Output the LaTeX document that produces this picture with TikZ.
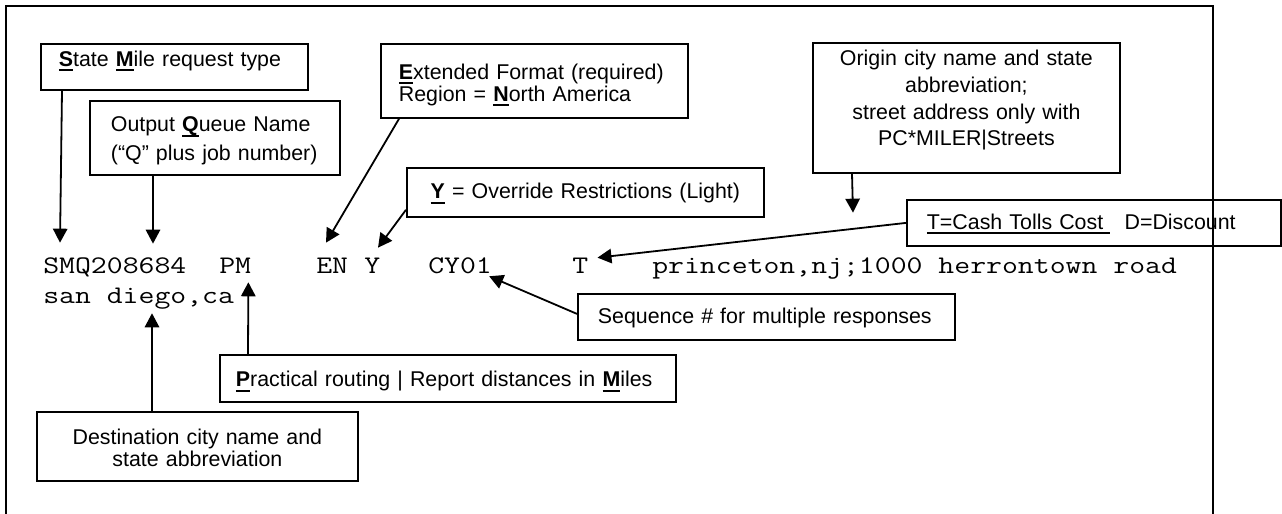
\documentclass[tikz,border=0pt]{standalone}
\usepackage{fontspec}
\setmainfont{Liberation Sans}
\newfontfamily\codefont[FakeStretch=1.22]{Latin Modern Mono}
\usepackage{tikz}
\usetikzlibrary{arrows.meta}

\newdimen\pxu \pxu=0.25mm
\newsavebox\keybox
\newcommand\ukey[1]{\sbox\keybox{\textbf{#1}}\rlap{\rule[-3.6pt]{\wd\keybox}{1.5pt}}\usebox\keybox}
\newcommand\ulplain[1]{\sbox\keybox{#1}\rlap{\rule[-2.7pt]{\wd\keybox}{1pt}}\usebox\keybox}
\newcommand\lblfont[1]{\fontsize{15.2pt}{#1}\selectfont}

\begin{document}
\begin{tikzpicture}[x=0.25mm, y=-0.25mm,
    box/.style={draw, line width=0.45mm, anchor=north west, inner ysep=0pt, text height=0pt, text depth=0pt},
    code/.style={font=\codefont\fontsize{18pt}{22pt}\selectfont, inner sep=0pt, anchor=base west, text height=10.7pt, text depth=0pt},
    pointer/.style={line width=0.45mm, -{Triangle[length=3.5mm, width=3.6mm]}}]

    \useasboundingbox (0,0) rectangle (1282,514);

    % callout boxes
    \node [box, inner xsep=18\pxu, text width=231\pxu, minimum height=46\pxu, align=left, text depth=1pt, font=\lblfont{17pt}] (state) at (40,43) {\ukey{S}tate \ukey{M}ile request type};
    \node [box, inner xsep=21\pxu, text width=208\pxu, minimum height=74\pxu, align=left, text depth=9pt, font=\lblfont{20.6pt}] (queue) at (89,100) {Output \ukey{Q}ueue Name\\(``Q'' plus job number)};
    \node [box, inner xsep=18\pxu, text width=271\pxu, minimum height=74\pxu, align=left, text depth=2.5pt, font=\lblfont{15.6pt}] (extfmt) at (380,43) {\ukey{E}xtended Format (required)\\Region = \ukey{N}orth America};
    \node [box, inner xsep=10\pxu, text width=337\pxu, minimum height=49\pxu, align=center, text height=9.2pt, font=\lblfont{17pt}] (override) at (406,167) {\ukey{Y} = Override Restrictions (Light)};
    \node [box, inner xsep=10\pxu, text width=287\pxu, minimum height=130\pxu, align=center, text depth=59.7pt, font=\lblfont{18.9pt}] (origin) at (812,42) {Origin city name and state\\abbreviation;\\street address only with\\PC*MILER|Streets};
    \node [box, inner xsep=20\pxu, text width=334\pxu, minimum height=46\pxu, align=left, text height=10pt, font=\lblfont{17pt}] (tolls) at (906,199) {\ulplain{T=Cash Tolls Cost\ }\ \ D=Discount};
    \node [box, inner xsep=20\pxu, text width=337\pxu, minimum height=46\pxu, align=left, text height=10pt, font=\lblfont{17pt}] (seqno) at (577,293) {Sequence \# for multiple responses};
    \node [box, inner xsep=16\pxu, text width=424\pxu, minimum height=47\pxu, align=left, text height=12pt, font=\lblfont{17pt}] (practical) at (219,354) {\ukey{P}ractical routing | Report distances in \ukey{M}iles};
    \node [box, inner xsep=10\pxu, text width=301\pxu, minimum height=69\pxu, align=center, text depth=3.1pt, font=\lblfont{16.2pt}] (destbox) at (36,411) {Destination city name and\\state abbreviation};

    % the request line
    \node [code] (smq)   at (43,274)  {SMQ208684};
    \node [code] (pm)    at (219,274) {PM};
    \node [code] (en)    at (316,274) {EN};
    \node [code] (yflag) at (364,274) {Y};
    \node [code] (cy)    at (428,274) {CY01};
    \node [code] (tflag) at (572,274) {T};
    \node [code] (orig)  at (652,274) {princeton,nj;1000 herrontown road};
    \node [code] (dest)  at (43,303)  {san diego,ca};

    % pointers
    \draw [pointer] ([shift={(22,0)}]state.south west) -- ([shift={(17,-16)}]smq.north west);
    \draw [pointer] ([shift={(64,0)}]queue.south west) -- ([shift={(110,-15)}]smq.north west);
    \draw [pointer] ([shift={(19,0)}]extfmt.south west) -- ([shift={(10,-16)}]en.north west);
    \draw [pointer] ([shift={(0,-8)}]override.south west) -- ([shift={(14,-11)}]yflag.north west);
    \draw [pointer] ([shift={(40,0)}]origin.south west) -- ([shift={(201,-46)}]orig.north west);
    \draw [pointer] (tolls.west) -- ([shift={(9,-1)}]tflag.north east);
    \draw [pointer] ([shift={(0,-3)}]seqno.west) -- ([shift={(-3,2)}]cy.south east);
    \draw [pointer] ([shift={(29,0)}]practical.north west) -- ([shift={(-3,8)}]pm.south east);
    \draw [pointer] ([shift={(116,0)}]destbox.north west) -- ([shift={(109,10)}]dest.south west);

    % outer frame, open at the bottom
    \draw [line width=0.6mm] (6,514) -- (6,6) -- (1213,6) -- (1213,514);
\end{tikzpicture}
\end{document}
